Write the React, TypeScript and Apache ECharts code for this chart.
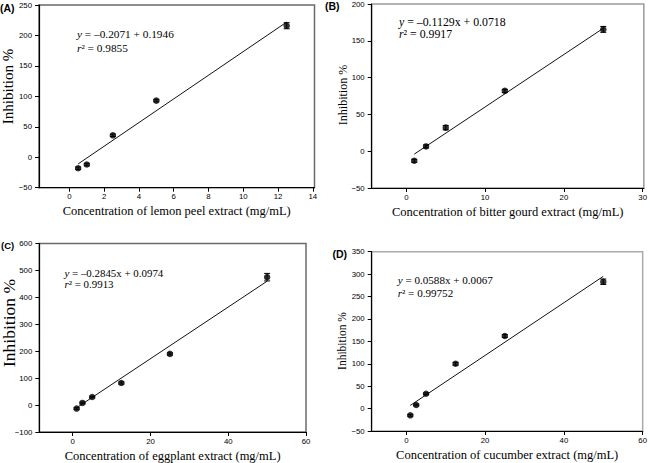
import React, { useEffect, useRef } from "react";
import * as echarts from "echarts";

// ---------- data ----------
const xA = [0.5, 1, 2.5, 5, 12.5];
const yA = [-18, -12, 36, 93, 216];
const eA = [2, 2, 2, 2, 5];
const fitA = [[0.5, -11], [12.5, 222]];
const xTicksA = [0, 2, 4, 6, 8, 10, 12, 14];

const xB = [1, 2.5, 5, 12.5, 25];
const yB = [-13, 6.5, 32, 82, 165.5];
const eB = [2, 2, 3, 2, 4];
const fitB = [[1, -4], [25, 167]];
const xTicksB = [0, 10, 20, 30];

const xC = [1, 2.5, 5, 12.5, 25, 50];
const yC = [-13, 8, 30, 82, 190, 475];
const eC = [3, 3, 3, 4, 4, 14];
const fitC = [[1, -10], [50, 460]];
const xTicksC = [0, 20, 40, 60];

const xD = [1, 2.5, 5, 12.5, 25, 50];
const yD = [-15, 8, 33, 100, 162, 283];
const eD = [2, 2, 2, 3, 3, 6];
const fitD = [[1, 7], [50, 295]];
const xTicksD = [0, 20, 40, 60];

const titlesX = [
  "Concentration of lemon peel extract (mg/mL)",
  "Concentration of bitter gourd extract (mg/mL)",
  "Concentration of eggplant extract (mg/mL)",
  "Concentration of cucumber extract (mg/mL)",
];
const eqLines = [
  [" = \u20130.2071 + 0.1946", "\u00b2 = 0.9855"],
  [" = \u20130.1129x + 0.0718", "\u00b2 = 0.9917"],
  [" = \u20130.2845x + 0.0974", "\u00b2 = 0.9913"],
  [" = 0.0588x + 0.0067", "\u00b2 = 0.99752"],
];
const panelLabels = ["(A)", "(B)", "(C)", "(D)"];

const SERIF = "'Liberation Serif', 'Times New Roman', serif";
const SANS = "'Liberation Sans', Arial, sans-serif";

type Panel = {
  xs: number[]; ys: number[]; es: number[]; fit: number[][]; xTicks: number[];
  grid: { left: number; top: number; width: number; height: number };
  xMin: number; xMax: number; yMin: number; yMax: number; yInt: number;
  border: string;
};

const panels: Panel[] = [
  { xs: xA, ys: yA, es: eA, fit: fitA, xTicks: xTicksA,
    grid: { left: 39, top: 5, width: 275.5, height: 182.7 },
    xMin: -1.75, xMax: 14.1, yMin: -50, yMax: 250, yInt: 50, border: "#6a6a6a" },
  { xs: xB, ys: yB, es: eB, fit: fitB, xTicks: xTicksB,
    grid: { left: 371.7, top: 4, width: 274, height: 184 },
    xMin: -4.4, xMax: 30.15, yMin: -50, yMax: 200, yInt: 50, border: "#9a9a9a" },
  { xs: xC, ys: yC, es: eC, fit: fitC, xTicks: xTicksC,
    grid: { left: 39.3, top: 243.5, width: 266.7, height: 188.5 },
    xMin: -8.6, xMax: 60, yMin: -100, yMax: 600, yInt: 100, border: "#6a6a6a" },
  { xs: xD, ys: yD, es: eD, fit: fitD, xTicks: xTicksD,
    grid: { left: 371.7, top: 251.7, width: 272.6, height: 179.3 },
    xMin: -8.8, xMax: 60, yMin: -50, yMax: 350, yInt: 50, border: "#aaaaaa" },
];

const fmt = (v: number) => String(v).replace("-", "\u2212");

export default function App() {
  const ref = useRef<HTMLDivElement>(null);
  useEffect(() => {
    if (!ref.current) return;
    const chart = echarts.init(ref.current, undefined, { renderer: "svg" });

    const grids: any[] = [];
    const xAxes: any[] = [];
    const yAxes: any[] = [];
    const series: any[] = [];

    panels.forEach((p, i) => {
      grids.push({ ...p.grid, show: true, borderColor: p.border, borderWidth: 1.5, backgroundColor: "transparent" });
      xAxes.push({
        type: "value", gridIndex: i, min: p.xMin, max: p.xMax,
        name: titlesX[i], nameLocation: "middle", nameGap: 17,
        nameTextStyle: { fontFamily: SERIF, fontSize: 12.5, color: "#000" },
        axisLine: { show: true, onZero: false, lineStyle: { color: "#000", width: 1.2 } },
        axisTick: { show: true, length: 4, customValues: p.xTicks, lineStyle: { color: "#000" } },
        axisLabel: { customValues: p.xTicks, fontFamily: SANS, fontSize: 7.8, color: "#000", margin: 5, formatter: fmt },
        splitLine: { show: false },
      });
      yAxes.push({
        type: "value", gridIndex: i, min: p.yMin, max: p.yMax, interval: p.yInt,
        axisLine: { show: true, onZero: false, lineStyle: { color: "#000", width: 1.2 } },
        axisTick: { show: true, length: 4, lineStyle: { color: "#000" } },
        axisLabel: { fontFamily: SANS, fontSize: 7.8, color: "#000", margin: 7, formatter: fmt },
        splitLine: { show: false },
      });
      series.push({
        type: "line", xAxisIndex: i, yAxisIndex: i, data: p.fit,
        showSymbol: false, symbol: "none", lineStyle: { color: "#111", width: 1 }, z: 2,
      });
      series.push({
        type: "custom", xAxisIndex: i, yAxisIndex: i,
        data: p.xs.map((x, k) => [x, p.ys[k] - p.es[k], p.ys[k] + p.es[k]]),
        renderItem: (params: any, api: any) => {
          const lo = api.coord([api.value(0), api.value(1)]);
          const hi = api.coord([api.value(0), api.value(2)]);
          const cw = 3;
          const st = { stroke: "#000", lineWidth: 1 };
          return {
            type: "group",
            children: [
              { type: "line", shape: { x1: lo[0], y1: lo[1], x2: hi[0], y2: hi[1] }, style: st },
              { type: "line", shape: { x1: lo[0] - cw, y1: lo[1], x2: lo[0] + cw, y2: lo[1] }, style: st },
              { type: "line", shape: { x1: hi[0] - cw, y1: hi[1], x2: hi[0] + cw, y2: hi[1] }, style: st },
            ],
          };
        },
        z: 3,
      });
      series.push({
        type: "scatter", xAxisIndex: i, yAxisIndex: i,
        data: p.xs.map((x, k) => [x, p.ys[k]]),
        symbol: "circle", symbolSize: 6.5, itemStyle: { color: "#000" }, z: 4,
      });
    });

    const eqPos = [
      { x: 77, y1: 34, y2: 48, fs: 11.3 },
      { x: 399, y1: 21.7, y2: 34.3, fs: 11.8 },
      { x: 64.5, y1: 272.7, y2: 284.3, fs: 10.9 },
      { x: 397.7, y1: 280, y2: 292.7, fs: 11.1 },
    ];
    const yTitle = [
      { x: 7.8, y: 86.5, fs: 15 },
      { x: 342.5, y: 95, fs: 12 },
      { x: 8.5, y: 323, fs: 17.5 },
      { x: 342, y: 341, fs: 11.5 },
    ];
    const lab = [
      { x: 0, y: 7.5, fs: 10.5 },
      { x: 325, y: 6.3, fs: 10.5 },
      { x: 1, y: 245, fs: 9.5 },
      { x: 332.5, y: 254, fs: 10.5 },
    ];

    const graphic: any[] = [];
    eqPos.forEach((e, i) => {
      const rich = {
        i: { fontFamily: SERIF, fontSize: e.fs, fontStyle: "italic", fill: "#000" },
        n: { fontFamily: SERIF, fontSize: e.fs, fill: "#000" },
      };
      graphic.push({
        type: "text", x: e.x, y: e.y1,
        style: { text: "{i|y}{n|" + eqLines[i][0] + "}", rich, align: "left", verticalAlign: "middle", fontFamily: SERIF, fontSize: e.fs },
      });
      graphic.push({
        type: "text", x: e.x, y: e.y2,
        style: { text: "{i|r}{n|" + eqLines[i][1] + "}", rich, align: "left", verticalAlign: "middle", fontFamily: SERIF, fontSize: e.fs },
      });
    });
    yTitle.forEach((t) => {
      graphic.push({
        type: "text", x: t.x, y: t.y, rotation: Math.PI / 2,
        style: { text: "Inhibition %", fontFamily: SERIF, fontSize: t.fs, fill: "#000", align: "center", verticalAlign: "middle" },
      });
    });
    lab.forEach((l, i) => {
      graphic.push({
        type: "text", x: l.x, y: l.y,
        style: { text: panelLabels[i], fontFamily: SANS, fontWeight: "bold", fontSize: l.fs, fill: "#000", align: "left", verticalAlign: "middle" },
      });
    });

    chart.setOption({
      animation: false,
      backgroundColor: "#fff",
      grid: grids,
      xAxis: xAxes,
      yAxis: yAxes,
      series,
      graphic,
    });
    return () => chart.dispose();
  }, []);
  return <div ref={ref} style={{ position: "absolute", left: 0, top: 0, width: 650, height: 463 }} />;
}
